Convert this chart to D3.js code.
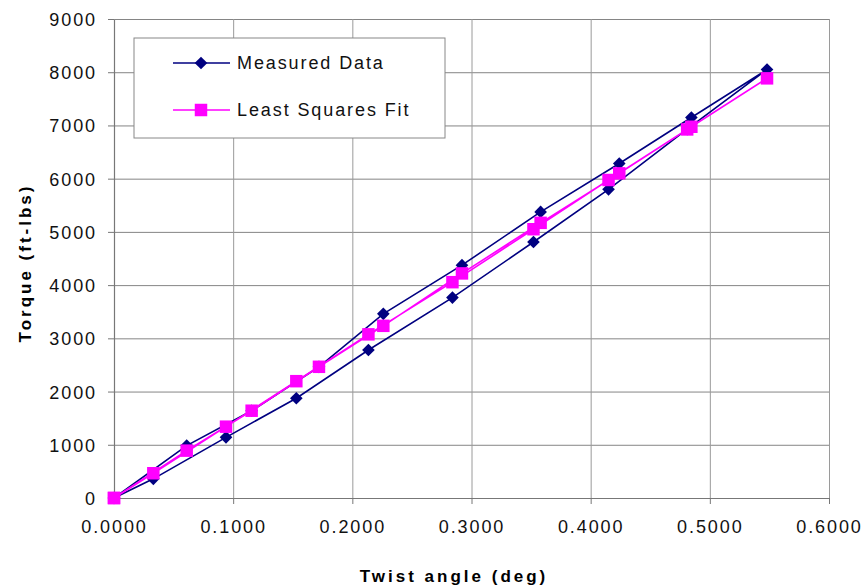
<!DOCTYPE html>
<html>
<head>
<meta charset="UTF-8">
<title>Torque vs twist angle</title>
<script src="https://d3js.org/d3.v7.min.js"></script>
<style>
  body { margin: 0; background: #fff; }
  svg { display: block; font-family: "Liberation Sans", Arial, sans-serif; }
</style>
</head>
<body>
<svg id="chart" width="866" height="585"></svg>
<script>
// twist angle (deg), loading then unloading
const angle    = [0, 0.033, 0.094, 0.153, 0.2135, 0.284, 0.352, 0.415, 0.481, 0.548,
                  0.4845, 0.424, 0.358, 0.292, 0.226, 0.172, 0.1155, 0.061, 0];
const measured = [0, 360, 1140, 1875, 2780, 3765, 4810, 5800, 6930, 8050,
                  7150, 6285, 5375, 4375, 3460, 2465, 1640, 985, 0];
const fitted   = [0, 465, 1340, 2195, 3075, 4055, 5050, 5975, 6925, 7885,
                  6975, 6100, 5170, 4220, 3235, 2465, 1640, 890, 0];
const seriesNames = ["Measured Data", "Least Squares Fit"];
const xTicks = [0, 0.1, 0.2, 0.3, 0.4, 0.5, 0.6];
const yTicks = [0, 1000, 2000, 3000, 4000, 5000, 6000, 7000, 8000, 9000];

const mLeft = 114, mRight = 829, mTop = 19, mBottom = 498;
const svg = d3.select("#chart");

const x = d3.scaleLinear().domain([0, 0.6]).range([mLeft, mRight]);
const y = d3.scaleLinear().domain([0, 9000]).range([mBottom, mTop]);

// gridlines
svg.append("g")
  .attr("transform", "translate(" + mLeft + ",0)")
  .call(d3.axisLeft(y).tickValues(yTicks).tickSize(-(mRight - mLeft)).tickFormat(""))
  .call(g => g.select(".domain").remove())
  .call(g => g.selectAll("line").attr("stroke", "#858585"));

svg.append("g")
  .attr("transform", "translate(0," + mBottom + ")")
  .call(d3.axisBottom(x).tickValues(xTicks).tickSize(-(mBottom - mTop)).tickFormat(""))
  .call(g => g.select(".domain").remove())
  .call(g => g.selectAll("line").attr("stroke", "#9a9a9a"));

// axes
const yAxis = svg.append("g")
  .attr("transform", "translate(" + mLeft + ",0)")
  .call(d3.axisLeft(y).tickValues(yTicks).tickSize(6).tickSizeOuter(0).tickPadding(12)
        .tickFormat(d3.format("d")));
const xAxis = svg.append("g")
  .attr("transform", "translate(0," + mBottom + ")")
  .call(d3.axisBottom(x).tickValues(xTicks).tickSize(6).tickSizeOuter(0).tickPadding(16)
        .tickFormat(d3.format(".4f")));

[xAxis, yAxis].forEach(a => {
  a.select(".domain").attr("stroke", "#777").attr("stroke-width", 1.2);
  a.selectAll(".tick line").attr("stroke", "#777");
  a.selectAll("text")
    .attr("fill", "#111")
    .style("font-size", "18px")
    .style("letter-spacing", "1.9px");
});
yAxis.selectAll("text").attr("dy", "0.36em").attr("x", -17);

// axis titles
svg.append("text")
  .attr("x", 454).attr("y", 582)
  .attr("text-anchor", "middle")
  .style("font-size", "17px").style("font-weight", "bold").style("letter-spacing", "3px")
  .text("Twist angle (deg)");

svg.append("text")
  .attr("transform", "translate(31,263) rotate(-90)")
  .attr("text-anchor", "middle")
  .style("font-size", "17px").style("font-weight", "bold").style("letter-spacing", "3px")
  .text("Torque (ft-lbs)");

// series
const series = [
  { name: seriesNames[0], values: measured, color: "#000080", shape: "diamond" },
  { name: seriesNames[1], values: fitted, color: "#ff00ff", shape: "square" }
];

function marker(sel, shape, color) {
  const size = shape === "diamond" ? 80 : 156;
  sel.attr("d", d3.symbol().type(d3.symbolSquare).size(size)())
    .attr("fill", color);
}

series.forEach(s => {
  const pts = angle.map((a, i) => [a, s.values[i]]);
  svg.append("path")
    .datum(pts)
    .attr("fill", "none")
    .attr("stroke", s.color)
    .attr("stroke-width", 1.6)
    .attr("d", d3.line().x(d => x(d[0])).y(d => y(d[1])));

  svg.append("g").selectAll("path")
    .data(pts)
    .join("path")
    .attr("transform", d => "translate(" + x(d[0]) + "," + y(d[1]) + ")" +
          (s.shape === "diamond" ? " rotate(45)" : ""))
    .call(marker, s.shape, s.color);
});

// legend
const legend = svg.append("g");
legend.append("rect")
  .attr("x", 134).attr("y", 38).attr("width", 311).attr("height", 100)
  .attr("fill", "#fff").attr("stroke", "#888");

series.forEach((s, i) => {
  const ly = 63 + i * 47;
  legend.append("line")
    .attr("x1", 173).attr("x2", 230).attr("y1", ly).attr("y2", ly)
    .attr("stroke", s.color).attr("stroke-width", 1.6);
  legend.append("path")
    .attr("transform", "translate(201," + ly + ")" + (s.shape === "diamond" ? " rotate(45)" : ""))
    .call(marker, s.shape, s.color);
  legend.append("text")
    .attr("x", 237).attr("y", ly + 6)
    .attr("fill", "#111")
    .style("font-size", "18px").style("letter-spacing", "1.9px")
    .text(s.name);
});
</script>
</body>
</html>
